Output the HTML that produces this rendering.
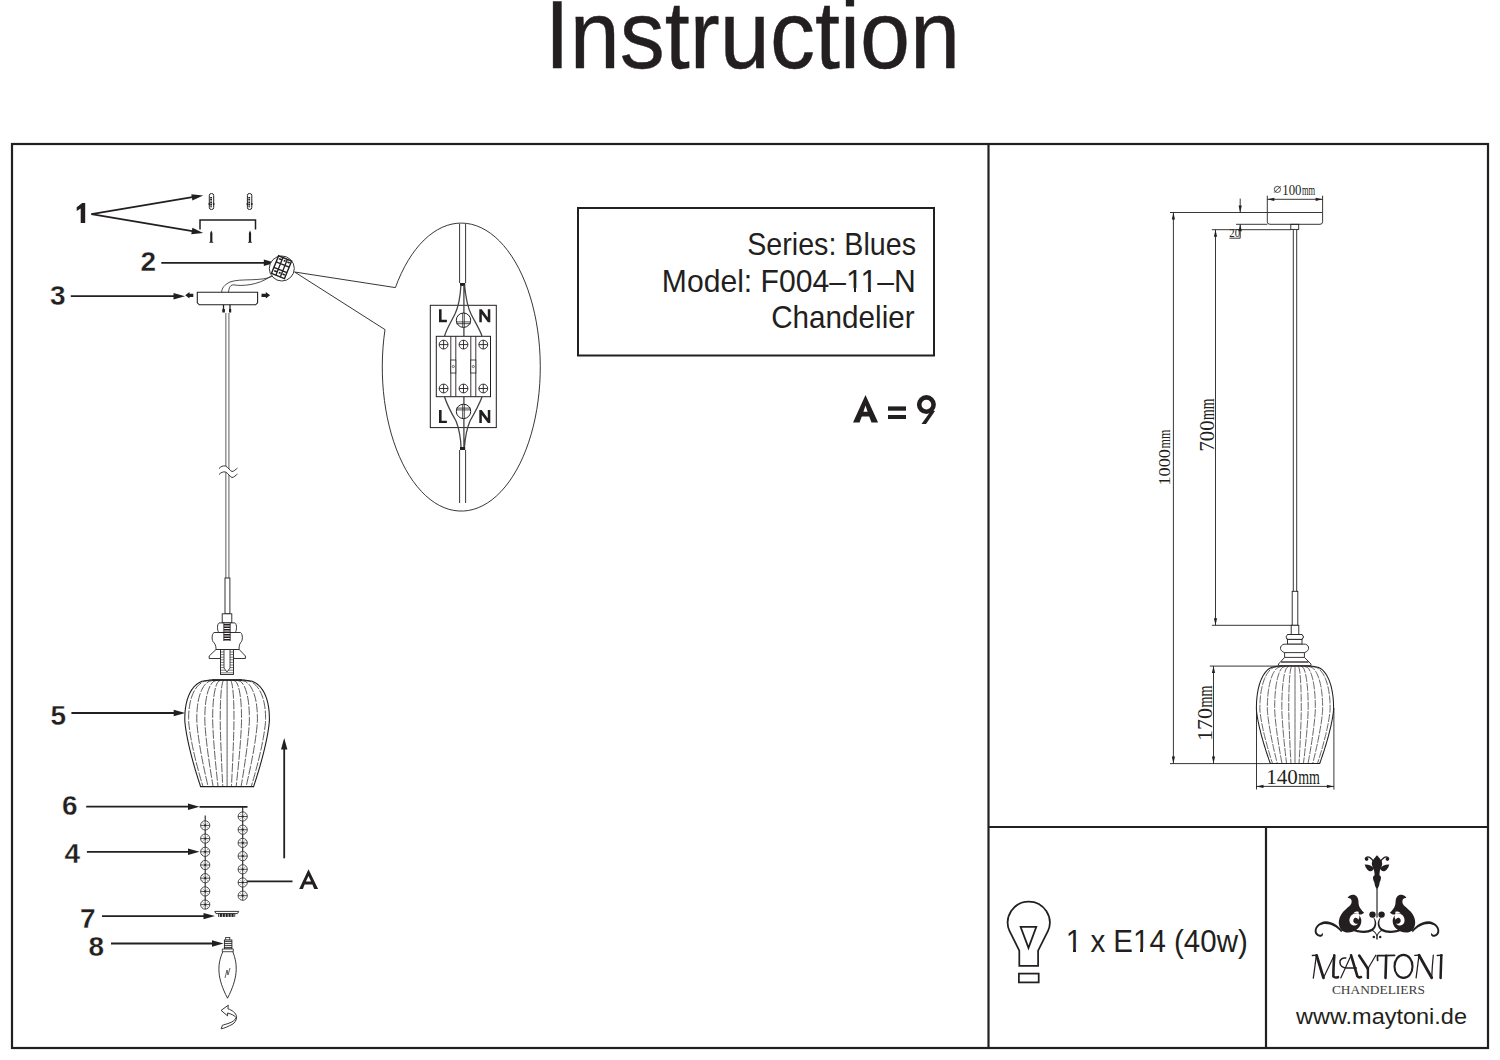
<!DOCTYPE html>
<html><head><meta charset="utf-8"><title>Instruction</title>
<style>html,body{margin:0;padding:0;background:#fff;width:1500px;height:1060px;overflow:hidden}svg{display:block}</style>
</head><body>
<svg width="1500" height="1060" viewBox="0 0 1500 1060">
<rect width="1500" height="1060" fill="#fff"/>
<text x="544.7" y="67.5" transform="translate(0 67.5) scale(1 1.025) translate(0 -67.5)" font-family="Liberation Sans, sans-serif" font-size="94" fill="#231f20" stroke="#231f20" stroke-width="0.4" textLength="415.4" lengthAdjust="spacingAndGlyphs">Instruction</text>
<g stroke="#231f20" stroke-width="2.2" fill="none">
<rect x="12" y="144" width="1476" height="904"/>
<line x1="988.5" y1="144" x2="988.5" y2="1048"/>
<line x1="988.5" y1="827" x2="1488" y2="827"/>
<line x1="1266" y1="827" x2="1266" y2="1048"/>
</g>
<rect x="578" y="208" width="356" height="147.5" fill="none" stroke="#231f20" stroke-width="2"/>
<g font-family="Liberation Sans, sans-serif" font-size="30.5" fill="#231f20" text-anchor="end">
<text x="916" y="255.1" textLength="168.8" lengthAdjust="spacingAndGlyphs">Series: Blues</text>
<text x="915.8" y="291.5" textLength="254" lengthAdjust="spacingAndGlyphs">Model: F004–11–N</text>
<text x="914.6" y="328.3" textLength="143.4" lengthAdjust="spacingAndGlyphs">Chandelier</text>
</g>
<path d="M853 422.5 L865.5 395 L878.1 422.5 L871.5 422.5 L869.2 416.5 L861.8 416.5 L859.5 422.5Z M863.4 411.8 L867.6 411.8 L865.5 405.5Z" fill="#231f20" fill-rule="evenodd"/>
<rect x="888" y="406.4" width="18" height="4.3" fill="#231f20"/><rect x="888" y="415" width="18" height="4" fill="#231f20"/>
<circle cx="926.4" cy="404.6" r="7.2" fill="none" stroke="#231f20" stroke-width="4.6"/>
<path d="M931.5 410 L921.5 424 L926 424 L935 411 Z" fill="#231f20"/>
<g font-family="Liberation Sans, sans-serif" font-weight="bold" font-size="28" fill="#231f20" stroke="#fff" stroke-width="0.3">
<text x="140.5" y="270.7">2</text>
<text x="50" y="305.4">3</text>
<text x="50.5" y="724.7">5</text>
<text x="62" y="815.4">6</text>
<text x="64.5" y="863.3">4</text>
<text x="80" y="927.6">7</text>
<text x="88.5" y="955.7">8</text>
</g><g fill="#231f20">
<path d="M80.7 223.1 V208.6 L76.7 211 L76.7 207.2 L82.2 203 L85.2 203 V223.1 Z"/>
<path d="M299.2 889 L308.5 869.2 L318.1 889 L314.2 889 L312.4 884.5 L304.6 884.5 L302.9 889 Z M305.9 881.5 L311.1 881.5 L308.5 876 Z" fill-rule="evenodd"/>
</g>
<line x1="91.4" y1="214.2" x2="195.3" y2="196.7" stroke="#231f20" stroke-width="1.8"/>
<path d="M203.2 195.4 L192.4 200.5 L191.3 194.2Z" fill="#231f20"/>
<line x1="91.4" y1="214.2" x2="195.3" y2="231.6" stroke="#231f20" stroke-width="1.8"/>
<path d="M203.2 232.9 L191.3 234.2 L192.4 227.8Z" fill="#231f20"/>
<line x1="161.3" y1="262.8" x2="267.2" y2="262.8" stroke="#231f20" stroke-width="1.8"/>
<path d="M275.3 262.8 L263.8 266.0 L263.8 259.6Z" fill="#231f20"/>
<line x1="70.8" y1="296.2" x2="176.9" y2="296.2" stroke="#231f20" stroke-width="1.8"/>
<path d="M185.0 296.2 L173.5 299.4 L173.5 293.0Z" fill="#231f20"/>
<line x1="71.4" y1="713" x2="177.1" y2="713.0" stroke="#231f20" stroke-width="1.8"/>
<path d="M185.2 713.0 L173.7 716.2 L173.7 709.8Z" fill="#231f20"/>
<line x1="86.2" y1="806.7" x2="191.4" y2="806.7" stroke="#231f20" stroke-width="1.8"/>
<path d="M199.5 806.7 L188.0 809.9 L188.0 803.5Z" fill="#231f20"/>
<line x1="86.9" y1="851.8" x2="191.4" y2="851.8" stroke="#231f20" stroke-width="1.8"/>
<path d="M199.5 851.8 L188.0 855.0 L188.0 848.6Z" fill="#231f20"/>
<line x1="102" y1="916.1" x2="206.9" y2="916.1" stroke="#231f20" stroke-width="1.8"/>
<path d="M215.0 916.1 L203.5 919.3 L203.5 912.9Z" fill="#231f20"/>
<line x1="111" y1="943.5" x2="215.4" y2="943.5" stroke="#231f20" stroke-width="1.8"/>
<path d="M223.5 943.5 L212.0 946.7 L212.0 940.3Z" fill="#231f20"/>
<line x1="284.2" y1="858.3" x2="284.2" y2="745.9" stroke="#231f20" stroke-width="1.8"/>
<path d="M284.2 737.9 L287.4 749.4 L281.0 749.4Z" fill="#231f20"/>
<line x1="242.7" y1="881.4" x2="292.5" y2="881.4" stroke="#231f20" stroke-width="1.6"/>
<rect x="209.3" y="193.5" width="4.4" height="16" rx="2" fill="#fff" stroke="#231f20" stroke-width="1"/>
<line x1="211.1" y1="197" x2="211.1" y2="207.5" stroke="#231f20" stroke-width="1.8" stroke-dasharray="1.2 0.5"/>
<circle cx="213.7" cy="204" r="0.9" fill="#231f20"/><circle cx="209.3" cy="204" r="0.9" fill="#231f20"/>
<rect x="247.4" y="193.5" width="4.4" height="16" rx="2" fill="#fff" stroke="#231f20" stroke-width="1"/>
<line x1="249.2" y1="197" x2="249.2" y2="207.5" stroke="#231f20" stroke-width="1.8" stroke-dasharray="1.2 0.5"/>
<circle cx="251.79999999999998" cy="204" r="0.9" fill="#231f20"/><circle cx="247.4" cy="204" r="0.9" fill="#231f20"/>
<path d="M200 229.5 L200 220 L255.5 220 L255.5 229.5" fill="none" stroke="#231f20" stroke-width="1.5"/>
<path d="M211.3 230.4 L212.4 233 L212.4 241.5 L213.60000000000002 242.7 L209.0 242.7 L210.20000000000002 241.5 L210.20000000000002 233Z" fill="#231f20"/>
<path d="M250 230.4 L251.1 233 L251.1 241.5 L252.3 242.7 L247.7 242.7 L248.9 241.5 L248.9 233Z" fill="#231f20"/>
<circle cx="281.8" cy="268.5" r="12.5" fill="#fff" stroke="#231f20" stroke-width="0.9"/>
<g transform="translate(282 267.4) rotate(22)"><rect x="-7.5" y="-9.5" width="14" height="19" fill="#fff" stroke="#231f20" stroke-width="1.4"/><path d="M-2.8 -9.5 V9.5 M2 -9.5 V9.5 M-7.5 -3 H6.5 M-7.5 3 H6.5" stroke="#231f20" stroke-width="1.3"/><path d="M-6 -7 h3 M-1 -7 h2 M3 -7 h2.5 M-6 6 h3 M-1 6 h2 M3 6 h2.5" stroke="#231f20" stroke-width="1.6"/></g>
<path d="M273 276 C262 282, 240 278, 230 282 C224 285, 222 288, 221.6 292.2" fill="none" stroke="#231f20" stroke-width="0.8"/>
<path d="M271 276 C258 286, 240 286, 235 285 C230 284, 229 288, 228.5 292.2" fill="none" stroke="#231f20" stroke-width="0.8"/>
<path d="M197.3 292.2 L257.6 292.2 L257.6 302.8 L255.6 304.8 L199.3 304.8 L197.3 302.8Z" fill="#fff" stroke="#231f20" stroke-width="1.1"/>
<path d="M185.2 295.3 L189.5 292 L189.5 293.8 L193.3 293.8 L193.3 297 L189.5 297 L189.5 298.6Z" fill="#231f20"/>
<path d="M270.1 295.3 L265.8 292 L265.8 293.8 L261.5 293.8 L261.5 297 L265.8 297 L265.8 298.6Z" fill="#231f20"/>
<path d="M223.5 304.8 V311 M230 304.8 V311" stroke="#231f20" stroke-width="1.3"/><rect x="222.3" y="309" width="2.6" height="3.5" fill="#231f20"/><rect x="229" y="309" width="2.2" height="3.5" fill="#231f20"/>
<path d="M225.8 313 V578 M228.9 313 V578" stroke="#8c8c8c" stroke-width="1.4"/>
<path d="M219 468.5 C221 466.5, 223 465.5, 225.5 466 C228 467, 230 471, 232 471.5 C234 471.5, 236 469, 237.5 468 L237.5 474 C236 475, 234 477.5, 232 477.5 C230 477, 228 473, 225.5 472 C223 471.5, 221 472.5, 219 474.5Z" fill="#fff"/>
<path d="M219 468.5 C221 466.5, 223 465.5, 225.5 466 C228 467, 230 471, 232 471.5 C234 471.5, 236 469, 237.5 468 M219 474.5 C221 472.5, 223 471.5, 225.5 472 C228 473, 230 477, 232 477.5 C234 477.5, 236 475, 237.5 474" fill="none" stroke="#231f20" stroke-width="0.9"/>
<rect x="225" y="578" width="4.9" height="35.8" fill="#fff" stroke="#231f20" stroke-width="0.9"/>
<rect x="222.2" y="613.8" width="9.6" height="9.1" fill="#fff" stroke="#231f20" stroke-width="0.9"/>
<path d="M219 622.9 L235 622.9 C237 624, 237 631, 235 632.5 L219 632.5 C217 631, 217 624, 219 622.9Z" fill="#fff" stroke="#231f20" stroke-width="0.9"/>
<path d="M214 632.5 L240.5 632.5 C243 634, 243 641, 240.5 642.7 C239 645, 239 648, 239.2 649.5 L216 649.5 C216 648, 216 645, 214 642.7 C211.5 641, 211.5 634, 214 632.5Z" fill="#fff" stroke="#231f20" stroke-width="0.9"/>
<path d="M216 649.5 L239.2 649.5 L245.4 656 L245.4 658.5 L209.2 658.5 L209.2 656Z" fill="#fff" stroke="#231f20" stroke-width="0.9"/>
<rect x="223.8" y="624.0" width="6.4" height="1.5" fill="#231f20"/>
<rect x="223.8" y="626.5" width="6.4" height="1.5" fill="#231f20"/>
<rect x="223.8" y="629.0" width="6.4" height="1.5" fill="#231f20"/>
<rect x="223.8" y="631.5" width="6.4" height="1.5" fill="#231f20"/>
<rect x="223.8" y="634.0" width="6.4" height="1.5" fill="#231f20"/>
<rect x="223.8" y="636.5" width="6.4" height="1.5" fill="#231f20"/>
<rect x="223.8" y="639.0" width="6.4" height="1.5" fill="#231f20"/>
<path d="M223.8 623 V641 M230.2 623 V641" stroke="#231f20" stroke-width="0.8"/>
<rect x="220.5" y="649.5" width="13" height="25" fill="#fff" stroke="#231f20" stroke-width="0.9"/>
<line x1="220.5" y1="652.0" x2="233.5" y2="652.0" stroke="#231f20" stroke-width="0.6"/>
<line x1="220.5" y1="654.6" x2="233.5" y2="654.6" stroke="#231f20" stroke-width="0.6"/>
<line x1="220.5" y1="657.2" x2="233.5" y2="657.2" stroke="#231f20" stroke-width="0.6"/>
<line x1="220.5" y1="659.8" x2="233.5" y2="659.8" stroke="#231f20" stroke-width="0.6"/>
<line x1="220.5" y1="662.4" x2="233.5" y2="662.4" stroke="#231f20" stroke-width="0.6"/>
<line x1="220.5" y1="665.0" x2="233.5" y2="665.0" stroke="#231f20" stroke-width="0.6"/>
<line x1="220.5" y1="667.6" x2="233.5" y2="667.6" stroke="#231f20" stroke-width="0.6"/>
<line x1="220.5" y1="670.2" x2="233.5" y2="670.2" stroke="#231f20" stroke-width="0.6"/>
<line x1="220.5" y1="672.8" x2="233.5" y2="672.8" stroke="#231f20" stroke-width="0.6"/>
<path d="M224 650 V668 L227 672 L230 668 V650" fill="#fff" stroke="#231f20" stroke-width="0.8"/>
<line x1="212" y1="680" x2="242" y2="680" stroke="#231f20" stroke-width="1.6"/>
<path d="M210.00 680.00 L201.83 681.33 L199.06 682.66 L197.08 684.00 L195.50 685.33 L194.19 686.66 L193.06 688.00 L192.07 689.33 L191.20 690.66 L190.42 691.99 L189.73 693.33 L189.10 694.66 L188.54 695.99 L188.04 697.32 L187.58 698.65 L187.17 699.99 L186.80 701.32 L186.48 702.65 L186.18 703.99 L185.93 705.32 L185.70 706.65 L185.50 707.98 L185.33 709.32 L185.19 710.65 L185.07 711.98 L184.98 713.31 L184.91 714.64 L184.86 715.98 L184.82 717.31 L184.80 718.64 L184.80 719.98 L184.86 721.31 L184.97 722.64 L185.11 723.97 L185.26 725.31 L185.43 726.64 L185.61 727.97 L185.80 729.30 L186.01 730.63 L186.23 731.97 L186.46 733.30 L186.69 734.63 L186.94 735.97 L187.19 737.30 L187.46 738.63 L187.72 739.96 L188.00 741.30 L188.29 742.63 L188.58 743.96 L188.87 745.29 L189.18 746.62 L189.49 747.96 L189.80 749.29 L190.12 750.62 L190.45 751.96 L190.78 753.29 L191.12 754.62 L191.47 755.95 L191.81 757.28 L192.17 758.62 L192.53 759.95 L192.89 761.28 L193.26 762.62 L193.63 763.95 L194.01 765.28 L194.39 766.61 L194.77 767.95 L195.16 769.28 L195.56 770.61 L195.96 771.94 L196.36 773.27 L196.77 774.61 L197.18 775.94 L197.59 777.27 L198.01 778.61 L198.43 779.94 L198.86 781.27 L199.29 782.60 L199.72 783.94 L200.16 785.27 L200.60 786.60 L253.60 786.60 L254.04 785.27 L254.48 783.94 L254.91 782.60 L255.34 781.27 L255.77 779.94 L256.19 778.61 L256.61 777.27 L257.02 775.94 L257.43 774.61 L257.84 773.27 L258.24 771.94 L258.64 770.61 L259.04 769.28 L259.43 767.95 L259.81 766.61 L260.19 765.28 L260.57 763.95 L260.94 762.62 L261.31 761.28 L261.67 759.95 L262.03 758.62 L262.39 757.28 L262.73 755.95 L263.08 754.62 L263.42 753.29 L263.75 751.96 L264.08 750.62 L264.40 749.29 L264.71 747.96 L265.02 746.62 L265.33 745.29 L265.62 743.96 L265.91 742.63 L266.20 741.30 L266.48 739.96 L266.74 738.63 L267.01 737.30 L267.26 735.97 L267.51 734.63 L267.74 733.30 L267.97 731.97 L268.19 730.63 L268.40 729.30 L268.59 727.97 L268.77 726.64 L268.94 725.31 L269.09 723.97 L269.23 722.64 L269.34 721.31 L269.40 719.98 L269.40 718.64 L269.38 717.31 L269.34 715.98 L269.29 714.64 L269.22 713.31 L269.13 711.98 L269.01 710.65 L268.87 709.32 L268.70 707.98 L268.50 706.65 L268.27 705.32 L268.02 703.99 L267.72 702.65 L267.40 701.32 L267.03 699.99 L266.62 698.65 L266.16 697.32 L265.66 695.99 L265.10 694.66 L264.47 693.33 L263.78 691.99 L263.00 690.66 L262.13 689.33 L261.14 688.00 L260.01 686.66 L258.70 685.33 L257.12 684.00 L255.14 682.66 L252.37 681.33 L244.20 680.00Z" fill="none" stroke="#231f20" stroke-width="1.1"/>
<path d="M211.54 680.00 L204.10 681.33 L201.59 682.66 L199.78 684.00 L198.35 685.33 L197.15 686.66 L196.12 688.00 L195.22 689.33 L194.43 690.66 L193.72 691.99 L193.09 693.33 L192.52 694.66 L192.01 695.99 L191.55 697.32 L191.14 698.65 L190.77 699.99 L190.43 701.32 L190.13 702.65 L189.87 703.99 L189.63 705.32 L189.42 706.65 L189.25 707.98 L189.09 709.32 L188.96 710.65 L188.86 711.98 L188.77 713.31 L188.71 714.64 L188.66 715.98 L188.63 717.31 L188.61 718.64 L188.61 719.98 L188.67 721.31 L188.76 722.64 L188.88 723.97 L189.02 725.31 L189.18 726.64 L189.34 727.97 L189.52 729.30 L189.71 730.63 L189.91 731.97 L190.11 733.30 L190.33 734.63 L190.55 735.97 L190.78 737.30 L191.02 738.63 L191.27 739.96 L191.52 741.30 L191.78 742.63 L192.04 743.96 L192.31 745.29 L192.59 746.62 L192.87 747.96 L193.16 749.29 L193.45 750.62 L193.75 751.96 L194.05 753.29 L194.36 754.62 L194.67 755.95 L194.99 757.28 L195.31 758.62 L195.64 759.95 L195.97 761.28 L196.30 762.62 L196.64 763.95 L196.98 765.28 L197.33 766.61 L197.68 767.95 L198.04 769.28 L198.40 770.61 L198.76 771.94 L199.13 773.27 L199.50 774.61 L199.87 775.94 L200.25 777.27 L200.63 778.61 L201.01 779.94 L201.40 781.27 L201.79 782.60 L202.19 783.94 L202.58 785.27 L202.98 786.60" fill="none" stroke="#231f20" stroke-width="0.75" stroke-dasharray="9 1.5"/>
<path d="M214.84 680.00 L208.99 681.33 L207.01 682.66 L205.58 684.00 L204.46 685.33 L203.51 686.66 L202.70 688.00 L201.99 689.33 L201.37 690.66 L200.81 691.99 L200.32 693.33 L199.87 694.66 L199.47 695.99 L199.10 697.32 L198.78 698.65 L198.48 699.99 L198.22 701.32 L197.98 702.65 L197.77 703.99 L197.59 705.32 L197.43 706.65 L197.29 707.98 L197.17 709.32 L197.06 710.65 L196.98 711.98 L196.91 713.31 L196.86 714.64 L196.82 715.98 L196.80 717.31 L196.79 718.64 L196.78 719.98 L196.83 721.31 L196.91 722.64 L197.00 723.97 L197.11 725.31 L197.23 726.64 L197.36 727.97 L197.50 729.30 L197.65 730.63 L197.81 731.97 L197.97 733.30 L198.14 734.63 L198.32 735.97 L198.50 737.30 L198.69 738.63 L198.88 739.96 L199.08 741.30 L199.28 742.63 L199.49 743.96 L199.70 745.29 L199.92 746.62 L200.14 747.96 L200.37 749.29 L200.60 750.62 L200.83 751.96 L201.07 753.29 L201.31 754.62 L201.56 755.95 L201.81 757.28 L202.06 758.62 L202.32 759.95 L202.58 761.28 L202.84 762.62 L203.11 763.95 L203.38 765.28 L203.65 766.61 L203.93 767.95 L204.21 769.28 L204.49 770.61 L204.78 771.94 L205.07 773.27 L205.36 774.61 L205.65 775.94 L205.95 777.27 L206.25 778.61 L206.55 779.94 L206.86 781.27 L207.17 782.60 L207.48 783.94 L207.79 785.27 L208.11 786.60" fill="none" stroke="#231f20" stroke-width="0.75" stroke-dasharray="9 1.5"/>
<path d="M218.09 680.00 L213.79 681.33 L212.33 682.66 L211.29 684.00 L210.45 685.33 L209.76 686.66 L209.17 688.00 L208.65 689.33 L208.19 690.66 L207.78 691.99 L207.41 693.33 L207.08 694.66 L206.79 695.99 L206.52 697.32 L206.28 698.65 L206.06 699.99 L205.87 701.32 L205.70 702.65 L205.54 703.99 L205.41 705.32 L205.29 706.65 L205.19 707.98 L205.10 709.32 L205.02 710.65 L204.96 711.98 L204.91 713.31 L204.87 714.64 L204.84 715.98 L204.83 717.31 L204.82 718.64 L204.82 719.98 L204.85 721.31 L204.91 722.64 L204.98 723.97 L205.06 725.31 L205.15 726.64 L205.24 727.97 L205.34 729.30 L205.45 730.63 L205.57 731.97 L205.69 733.30 L205.81 734.63 L205.94 735.97 L206.08 737.30 L206.21 738.63 L206.36 739.96 L206.50 741.30 L206.65 742.63 L206.80 743.96 L206.96 745.29 L207.12 746.62 L207.28 747.96 L207.45 749.29 L207.62 750.62 L207.79 751.96 L207.97 753.29 L208.15 754.62 L208.33 755.95 L208.51 757.28 L208.70 758.62 L208.89 759.95 L209.08 761.28 L209.27 762.62 L209.47 763.95 L209.67 765.28 L209.87 766.61 L210.07 767.95 L210.28 769.28 L210.48 770.61 L210.69 771.94 L210.91 773.27 L211.12 774.61 L211.34 775.94 L211.55 777.27 L211.77 778.61 L212.00 779.94 L212.22 781.27 L212.45 782.60 L212.68 783.94 L212.91 785.27 L213.14 786.60" fill="none" stroke="#231f20" stroke-width="0.75" stroke-dasharray="9 1.5"/>
<path d="M221.26 680.00 L218.47 681.33 L217.53 682.66 L216.85 684.00 L216.31 685.33 L215.86 686.66 L215.48 688.00 L215.14 689.33 L214.84 690.66 L214.58 691.99 L214.34 693.33 L214.13 694.66 L213.94 695.99 L213.76 697.32 L213.61 698.65 L213.47 699.99 L213.34 701.32 L213.23 702.65 L213.13 703.99 L213.04 705.32 L212.97 706.65 L212.90 707.98 L212.84 709.32 L212.79 710.65 L212.75 711.98 L212.72 713.31 L212.70 714.64 L212.68 715.98 L212.67 717.31 L212.66 718.64 L212.66 719.98 L212.68 721.31 L212.72 722.64 L212.76 723.97 L212.82 725.31 L212.87 726.64 L212.94 727.97 L213.00 729.30 L213.07 730.63 L213.15 731.97 L213.22 733.30 L213.31 734.63 L213.39 735.97 L213.48 737.30 L213.57 738.63 L213.66 739.96 L213.75 741.30 L213.85 742.63 L213.95 743.96 L214.05 745.29 L214.15 746.62 L214.26 747.96 L214.37 749.29 L214.48 750.62 L214.59 751.96 L214.70 753.29 L214.82 754.62 L214.93 755.95 L215.05 757.28 L215.17 758.62 L215.30 759.95 L215.42 761.28 L215.55 762.62 L215.67 763.95 L215.80 765.28 L215.93 766.61 L216.06 767.95 L216.20 769.28 L216.33 770.61 L216.47 771.94 L216.61 773.27 L216.74 774.61 L216.88 775.94 L217.03 777.27 L217.17 778.61 L217.31 779.94 L217.46 781.27 L217.61 782.60 L217.75 783.94 L217.90 785.27 L218.05 786.60" fill="none" stroke="#231f20" stroke-width="0.75" stroke-dasharray="9 1.5"/>
<path d="M224.32 680.00 L222.99 681.33 L222.54 682.66 L222.22 684.00 L221.96 685.33 L221.75 686.66 L221.56 688.00 L221.40 689.33 L221.26 690.66 L221.14 691.99 L221.02 693.33 L220.92 694.66 L220.83 695.99 L220.75 697.32 L220.67 698.65 L220.61 699.99 L220.55 701.32 L220.49 702.65 L220.45 703.99 L220.40 705.32 L220.37 706.65 L220.34 707.98 L220.31 709.32 L220.29 710.65 L220.27 711.98 L220.25 713.31 L220.24 714.64 L220.23 715.98 L220.23 717.31 L220.22 718.64 L220.22 719.98 L220.23 721.31 L220.25 722.64 L220.27 723.97 L220.30 725.31 L220.32 726.64 L220.35 727.97 L220.38 729.30 L220.42 730.63 L220.45 731.97 L220.49 733.30 L220.53 734.63 L220.57 735.97 L220.61 737.30 L220.65 738.63 L220.70 739.96 L220.74 741.30 L220.79 742.63 L220.84 743.96 L220.88 745.29 L220.93 746.62 L220.98 747.96 L221.04 749.29 L221.09 750.62 L221.14 751.96 L221.19 753.29 L221.25 754.62 L221.31 755.95 L221.36 757.28 L221.42 758.62 L221.48 759.95 L221.54 761.28 L221.60 762.62 L221.66 763.95 L221.72 765.28 L221.78 766.61 L221.84 767.95 L221.91 769.28 L221.97 770.61 L222.04 771.94 L222.10 773.27 L222.17 774.61 L222.23 775.94 L222.30 777.27 L222.37 778.61 L222.44 779.94 L222.51 781.27 L222.58 782.60 L222.65 783.94 L222.72 785.27 L222.79 786.60" fill="none" stroke="#231f20" stroke-width="0.75" stroke-dasharray="9 1.5"/>
<path d="M227.10 680.00 L227.10 681.33 L227.10 682.66 L227.10 684.00 L227.10 685.33 L227.10 686.66 L227.10 688.00 L227.10 689.33 L227.10 690.66 L227.10 691.99 L227.10 693.33 L227.10 694.66 L227.10 695.99 L227.10 697.32 L227.10 698.65 L227.10 699.99 L227.10 701.32 L227.10 702.65 L227.10 703.99 L227.10 705.32 L227.10 706.65 L227.10 707.98 L227.10 709.32 L227.10 710.65 L227.10 711.98 L227.10 713.31 L227.10 714.64 L227.10 715.98 L227.10 717.31 L227.10 718.64 L227.10 719.98 L227.10 721.31 L227.10 722.64 L227.10 723.97 L227.10 725.31 L227.10 726.64 L227.10 727.97 L227.10 729.30 L227.10 730.63 L227.10 731.97 L227.10 733.30 L227.10 734.63 L227.10 735.97 L227.10 737.30 L227.10 738.63 L227.10 739.96 L227.10 741.30 L227.10 742.63 L227.10 743.96 L227.10 745.29 L227.10 746.62 L227.10 747.96 L227.10 749.29 L227.10 750.62 L227.10 751.96 L227.10 753.29 L227.10 754.62 L227.10 755.95 L227.10 757.28 L227.10 758.62 L227.10 759.95 L227.10 761.28 L227.10 762.62 L227.10 763.95 L227.10 765.28 L227.10 766.61 L227.10 767.95 L227.10 769.28 L227.10 770.61 L227.10 771.94 L227.10 773.27 L227.10 774.61 L227.10 775.94 L227.10 777.27 L227.10 778.61 L227.10 779.94 L227.10 781.27 L227.10 782.60 L227.10 783.94 L227.10 785.27 L227.10 786.60" fill="none" stroke="#231f20" stroke-width="0.75"/>
<path d="M229.88 680.00 L231.21 681.33 L231.66 682.66 L231.98 684.00 L232.24 685.33 L232.45 686.66 L232.64 688.00 L232.80 689.33 L232.94 690.66 L233.06 691.99 L233.18 693.33 L233.28 694.66 L233.37 695.99 L233.45 697.32 L233.53 698.65 L233.59 699.99 L233.65 701.32 L233.71 702.65 L233.75 703.99 L233.80 705.32 L233.83 706.65 L233.86 707.98 L233.89 709.32 L233.91 710.65 L233.93 711.98 L233.95 713.31 L233.96 714.64 L233.97 715.98 L233.97 717.31 L233.98 718.64 L233.98 719.98 L233.97 721.31 L233.95 722.64 L233.93 723.97 L233.90 725.31 L233.88 726.64 L233.85 727.97 L233.82 729.30 L233.78 730.63 L233.75 731.97 L233.71 733.30 L233.67 734.63 L233.63 735.97 L233.59 737.30 L233.55 738.63 L233.50 739.96 L233.46 741.30 L233.41 742.63 L233.36 743.96 L233.32 745.29 L233.27 746.62 L233.22 747.96 L233.16 749.29 L233.11 750.62 L233.06 751.96 L233.01 753.29 L232.95 754.62 L232.89 755.95 L232.84 757.28 L232.78 758.62 L232.72 759.95 L232.66 761.28 L232.60 762.62 L232.54 763.95 L232.48 765.28 L232.42 766.61 L232.36 767.95 L232.29 769.28 L232.23 770.61 L232.16 771.94 L232.10 773.27 L232.03 774.61 L231.97 775.94 L231.90 777.27 L231.83 778.61 L231.76 779.94 L231.69 781.27 L231.62 782.60 L231.55 783.94 L231.48 785.27 L231.41 786.60" fill="none" stroke="#231f20" stroke-width="0.75" stroke-dasharray="9 1.5"/>
<path d="M232.94 680.00 L235.73 681.33 L236.67 682.66 L237.35 684.00 L237.89 685.33 L238.34 686.66 L238.72 688.00 L239.06 689.33 L239.36 690.66 L239.62 691.99 L239.86 693.33 L240.07 694.66 L240.26 695.99 L240.44 697.32 L240.59 698.65 L240.73 699.99 L240.86 701.32 L240.97 702.65 L241.07 703.99 L241.16 705.32 L241.23 706.65 L241.30 707.98 L241.36 709.32 L241.41 710.65 L241.45 711.98 L241.48 713.31 L241.50 714.64 L241.52 715.98 L241.53 717.31 L241.54 718.64 L241.54 719.98 L241.52 721.31 L241.48 722.64 L241.44 723.97 L241.38 725.31 L241.33 726.64 L241.26 727.97 L241.20 729.30 L241.13 730.63 L241.05 731.97 L240.98 733.30 L240.89 734.63 L240.81 735.97 L240.72 737.30 L240.63 738.63 L240.54 739.96 L240.45 741.30 L240.35 742.63 L240.25 743.96 L240.15 745.29 L240.05 746.62 L239.94 747.96 L239.83 749.29 L239.72 750.62 L239.61 751.96 L239.50 753.29 L239.38 754.62 L239.27 755.95 L239.15 757.28 L239.03 758.62 L238.90 759.95 L238.78 761.28 L238.65 762.62 L238.53 763.95 L238.40 765.28 L238.27 766.61 L238.14 767.95 L238.00 769.28 L237.87 770.61 L237.73 771.94 L237.59 773.27 L237.46 774.61 L237.32 775.94 L237.17 777.27 L237.03 778.61 L236.89 779.94 L236.74 781.27 L236.59 782.60 L236.45 783.94 L236.30 785.27 L236.15 786.60" fill="none" stroke="#231f20" stroke-width="0.75" stroke-dasharray="9 1.5"/>
<path d="M236.11 680.00 L240.41 681.33 L241.87 682.66 L242.91 684.00 L243.75 685.33 L244.44 686.66 L245.03 688.00 L245.55 689.33 L246.01 690.66 L246.42 691.99 L246.79 693.33 L247.12 694.66 L247.41 695.99 L247.68 697.32 L247.92 698.65 L248.14 699.99 L248.33 701.32 L248.50 702.65 L248.66 703.99 L248.79 705.32 L248.91 706.65 L249.01 707.98 L249.10 709.32 L249.18 710.65 L249.24 711.98 L249.29 713.31 L249.33 714.64 L249.36 715.98 L249.37 717.31 L249.38 718.64 L249.38 719.98 L249.35 721.31 L249.29 722.64 L249.22 723.97 L249.14 725.31 L249.05 726.64 L248.96 727.97 L248.86 729.30 L248.75 730.63 L248.63 731.97 L248.51 733.30 L248.39 734.63 L248.26 735.97 L248.12 737.30 L247.99 738.63 L247.84 739.96 L247.70 741.30 L247.55 742.63 L247.40 743.96 L247.24 745.29 L247.08 746.62 L246.92 747.96 L246.75 749.29 L246.58 750.62 L246.41 751.96 L246.23 753.29 L246.05 754.62 L245.87 755.95 L245.69 757.28 L245.50 758.62 L245.31 759.95 L245.12 761.28 L244.93 762.62 L244.73 763.95 L244.53 765.28 L244.33 766.61 L244.13 767.95 L243.92 769.28 L243.72 770.61 L243.51 771.94 L243.29 773.27 L243.08 774.61 L242.86 775.94 L242.65 777.27 L242.43 778.61 L242.20 779.94 L241.98 781.27 L241.75 782.60 L241.52 783.94 L241.29 785.27 L241.06 786.60" fill="none" stroke="#231f20" stroke-width="0.75" stroke-dasharray="9 1.5"/>
<path d="M239.36 680.00 L245.21 681.33 L247.19 682.66 L248.62 684.00 L249.74 685.33 L250.69 686.66 L251.50 688.00 L252.21 689.33 L252.83 690.66 L253.39 691.99 L253.88 693.33 L254.33 694.66 L254.73 695.99 L255.10 697.32 L255.42 698.65 L255.72 699.99 L255.98 701.32 L256.22 702.65 L256.43 703.99 L256.61 705.32 L256.77 706.65 L256.91 707.98 L257.03 709.32 L257.14 710.65 L257.22 711.98 L257.29 713.31 L257.34 714.64 L257.38 715.98 L257.40 717.31 L257.41 718.64 L257.42 719.98 L257.37 721.31 L257.29 722.64 L257.20 723.97 L257.09 725.31 L256.97 726.64 L256.84 727.97 L256.70 729.30 L256.55 730.63 L256.39 731.97 L256.23 733.30 L256.06 734.63 L255.88 735.97 L255.70 737.30 L255.51 738.63 L255.32 739.96 L255.12 741.30 L254.92 742.63 L254.71 743.96 L254.50 745.29 L254.28 746.62 L254.06 747.96 L253.83 749.29 L253.60 750.62 L253.37 751.96 L253.13 753.29 L252.89 754.62 L252.64 755.95 L252.39 757.28 L252.14 758.62 L251.88 759.95 L251.62 761.28 L251.36 762.62 L251.09 763.95 L250.82 765.28 L250.55 766.61 L250.27 767.95 L249.99 769.28 L249.71 770.61 L249.42 771.94 L249.13 773.27 L248.84 774.61 L248.55 775.94 L248.25 777.27 L247.95 778.61 L247.65 779.94 L247.34 781.27 L247.03 782.60 L246.72 783.94 L246.41 785.27 L246.09 786.60" fill="none" stroke="#231f20" stroke-width="0.75" stroke-dasharray="9 1.5"/>
<path d="M242.66 680.00 L250.10 681.33 L252.61 682.66 L254.42 684.00 L255.85 685.33 L257.05 686.66 L258.08 688.00 L258.98 689.33 L259.77 690.66 L260.48 691.99 L261.11 693.33 L261.68 694.66 L262.19 695.99 L262.65 697.32 L263.06 698.65 L263.43 699.99 L263.77 701.32 L264.07 702.65 L264.33 703.99 L264.57 705.32 L264.78 706.65 L264.95 707.98 L265.11 709.32 L265.24 710.65 L265.34 711.98 L265.43 713.31 L265.49 714.64 L265.54 715.98 L265.57 717.31 L265.59 718.64 L265.59 719.98 L265.53 721.31 L265.44 722.64 L265.32 723.97 L265.18 725.31 L265.02 726.64 L264.86 727.97 L264.68 729.30 L264.49 730.63 L264.29 731.97 L264.09 733.30 L263.87 734.63 L263.65 735.97 L263.42 737.30 L263.18 738.63 L262.93 739.96 L262.68 741.30 L262.42 742.63 L262.16 743.96 L261.89 745.29 L261.61 746.62 L261.33 747.96 L261.04 749.29 L260.75 750.62 L260.45 751.96 L260.15 753.29 L259.84 754.62 L259.53 755.95 L259.21 757.28 L258.89 758.62 L258.56 759.95 L258.23 761.28 L257.90 762.62 L257.56 763.95 L257.22 765.28 L256.87 766.61 L256.52 767.95 L256.16 769.28 L255.80 770.61 L255.44 771.94 L255.07 773.27 L254.70 774.61 L254.33 775.94 L253.95 777.27 L253.57 778.61 L253.19 779.94 L252.80 781.27 L252.41 782.60 L252.01 783.94 L251.62 785.27 L251.22 786.60" fill="none" stroke="#231f20" stroke-width="0.75" stroke-dasharray="9 1.5"/>
<line x1="199.5" y1="806.9" x2="247.5" y2="806.9" stroke="#231f20" stroke-width="1.6"/>
<line x1="205.2" y1="815.5" x2="205.2" y2="905" stroke="#231f20" stroke-width="1.1"/>
<line x1="242.7" y1="806.9" x2="242.7" y2="895" stroke="#231f20" stroke-width="1.1"/>
<circle cx="205.2" cy="825.4" r="4.6" fill="#fff" stroke="#231f20" stroke-width="0.8"/>
<path d="M200.6 825.4 H209.79999999999998 M205.2 820.8 V830.0" stroke="#231f20" stroke-width="0.8"/>
<path d="M202.35 822.55 L204.05 824.25 M208.05 822.55 L206.35 824.25 M202.35 828.25 L204.05 826.55 M208.05 828.25 L206.35 826.55" stroke="#777" stroke-width="0.6"/>
<circle cx="205.2" cy="825.4" r="1.1" fill="#231f20"/>
<circle cx="205.2" cy="838.6" r="4.6" fill="#fff" stroke="#231f20" stroke-width="0.8"/>
<path d="M200.6 838.6 H209.79999999999998 M205.2 834.0 V843.2" stroke="#231f20" stroke-width="0.8"/>
<path d="M202.35 835.75 L204.05 837.45 M208.05 835.75 L206.35 837.45 M202.35 841.45 L204.05 839.75 M208.05 841.45 L206.35 839.75" stroke="#777" stroke-width="0.6"/>
<circle cx="205.2" cy="838.6" r="1.1" fill="#231f20"/>
<circle cx="205.2" cy="851.8" r="4.6" fill="#fff" stroke="#231f20" stroke-width="0.8"/>
<path d="M200.6 851.8 H209.79999999999998 M205.2 847.1999999999999 V856.4" stroke="#231f20" stroke-width="0.8"/>
<path d="M202.35 848.95 L204.05 850.65 M208.05 848.95 L206.35 850.65 M202.35 854.65 L204.05 852.95 M208.05 854.65 L206.35 852.95" stroke="#777" stroke-width="0.6"/>
<circle cx="205.2" cy="851.8" r="1.1" fill="#231f20"/>
<circle cx="205.2" cy="865.0" r="4.6" fill="#fff" stroke="#231f20" stroke-width="0.8"/>
<path d="M200.6 865.0 H209.79999999999998 M205.2 860.4 V869.6" stroke="#231f20" stroke-width="0.8"/>
<path d="M202.35 862.15 L204.05 863.85 M208.05 862.15 L206.35 863.85 M202.35 867.85 L204.05 866.15 M208.05 867.85 L206.35 866.15" stroke="#777" stroke-width="0.6"/>
<circle cx="205.2" cy="865.0" r="1.1" fill="#231f20"/>
<circle cx="205.2" cy="878.1999999999999" r="4.6" fill="#fff" stroke="#231f20" stroke-width="0.8"/>
<path d="M200.6 878.1999999999999 H209.79999999999998 M205.2 873.5999999999999 V882.8" stroke="#231f20" stroke-width="0.8"/>
<path d="M202.35 875.35 L204.05 877.05 M208.05 875.35 L206.35 877.05 M202.35 881.05 L204.05 879.35 M208.05 881.05 L206.35 879.35" stroke="#777" stroke-width="0.6"/>
<circle cx="205.2" cy="878.1999999999999" r="1.1" fill="#231f20"/>
<circle cx="205.2" cy="891.4" r="4.6" fill="#fff" stroke="#231f20" stroke-width="0.8"/>
<path d="M200.6 891.4 H209.79999999999998 M205.2 886.8 V896.0" stroke="#231f20" stroke-width="0.8"/>
<path d="M202.35 888.55 L204.05 890.25 M208.05 888.55 L206.35 890.25 M202.35 894.25 L204.05 892.55 M208.05 894.25 L206.35 892.55" stroke="#777" stroke-width="0.6"/>
<circle cx="205.2" cy="891.4" r="1.1" fill="#231f20"/>
<circle cx="205.2" cy="904.5999999999999" r="4.6" fill="#fff" stroke="#231f20" stroke-width="0.8"/>
<path d="M200.6 904.5999999999999 H209.79999999999998 M205.2 899.9999999999999 V909.1999999999999" stroke="#231f20" stroke-width="0.8"/>
<path d="M202.35 901.75 L204.05 903.45 M208.05 901.75 L206.35 903.45 M202.35 907.45 L204.05 905.75 M208.05 907.45 L206.35 905.75" stroke="#777" stroke-width="0.6"/>
<circle cx="205.2" cy="904.5999999999999" r="1.1" fill="#231f20"/>
<circle cx="242.7" cy="816.5" r="4.6" fill="#fff" stroke="#231f20" stroke-width="0.8"/>
<path d="M238.1 816.5 H247.29999999999998 M242.7 811.9 V821.1" stroke="#231f20" stroke-width="0.8"/>
<path d="M239.85 813.65 L241.55 815.35 M245.55 813.65 L243.85 815.35 M239.85 819.35 L241.55 817.65 M245.55 819.35 L243.85 817.65" stroke="#777" stroke-width="0.6"/>
<circle cx="242.7" cy="816.5" r="1.1" fill="#231f20"/>
<circle cx="242.7" cy="829.7" r="4.6" fill="#fff" stroke="#231f20" stroke-width="0.8"/>
<path d="M238.1 829.7 H247.29999999999998 M242.7 825.1 V834.3000000000001" stroke="#231f20" stroke-width="0.8"/>
<path d="M239.85 826.85 L241.55 828.55 M245.55 826.85 L243.85 828.55 M239.85 832.55 L241.55 830.85 M245.55 832.55 L243.85 830.85" stroke="#777" stroke-width="0.6"/>
<circle cx="242.7" cy="829.7" r="1.1" fill="#231f20"/>
<circle cx="242.7" cy="842.9" r="4.6" fill="#fff" stroke="#231f20" stroke-width="0.8"/>
<path d="M238.1 842.9 H247.29999999999998 M242.7 838.3 V847.5" stroke="#231f20" stroke-width="0.8"/>
<path d="M239.85 840.05 L241.55 841.75 M245.55 840.05 L243.85 841.75 M239.85 845.75 L241.55 844.05 M245.55 845.75 L243.85 844.05" stroke="#777" stroke-width="0.6"/>
<circle cx="242.7" cy="842.9" r="1.1" fill="#231f20"/>
<circle cx="242.7" cy="856.1" r="4.6" fill="#fff" stroke="#231f20" stroke-width="0.8"/>
<path d="M238.1 856.1 H247.29999999999998 M242.7 851.5 V860.7" stroke="#231f20" stroke-width="0.8"/>
<path d="M239.85 853.25 L241.55 854.95 M245.55 853.25 L243.85 854.95 M239.85 858.95 L241.55 857.25 M245.55 858.95 L243.85 857.25" stroke="#777" stroke-width="0.6"/>
<circle cx="242.7" cy="856.1" r="1.1" fill="#231f20"/>
<circle cx="242.7" cy="869.3" r="4.6" fill="#fff" stroke="#231f20" stroke-width="0.8"/>
<path d="M238.1 869.3 H247.29999999999998 M242.7 864.6999999999999 V873.9" stroke="#231f20" stroke-width="0.8"/>
<path d="M239.85 866.45 L241.55 868.15 M245.55 866.45 L243.85 868.15 M239.85 872.15 L241.55 870.45 M245.55 872.15 L243.85 870.45" stroke="#777" stroke-width="0.6"/>
<circle cx="242.7" cy="869.3" r="1.1" fill="#231f20"/>
<circle cx="242.7" cy="882.5" r="4.6" fill="#fff" stroke="#231f20" stroke-width="0.8"/>
<path d="M238.1 882.5 H247.29999999999998 M242.7 877.9 V887.1" stroke="#231f20" stroke-width="0.8"/>
<path d="M239.85 879.65 L241.55 881.35 M245.55 879.65 L243.85 881.35 M239.85 885.35 L241.55 883.65 M245.55 885.35 L243.85 883.65" stroke="#777" stroke-width="0.6"/>
<circle cx="242.7" cy="882.5" r="1.1" fill="#231f20"/>
<circle cx="242.7" cy="895.7" r="4.6" fill="#fff" stroke="#231f20" stroke-width="0.8"/>
<path d="M238.1 895.7 H247.29999999999998 M242.7 891.1 V900.3000000000001" stroke="#231f20" stroke-width="0.8"/>
<path d="M239.85 892.85 L241.55 894.55 M245.55 892.85 L243.85 894.55 M239.85 898.55 L241.55 896.85 M245.55 898.55 L243.85 896.85" stroke="#777" stroke-width="0.6"/>
<circle cx="242.7" cy="895.7" r="1.1" fill="#231f20"/>
<path d="M214.8 911.4 L238.7 911.4 L237.5 913.6 L216 913.6Z" fill="#fff" stroke="#231f20" stroke-width="0.9"/>
<rect x="218.2" y="913.6" width="17" height="3.3" fill="#231f20"/>
<line x1="219.5" y1="914" x2="219.5" y2="917" stroke="#fff" stroke-width="0.7"/>
<line x1="222.4" y1="914" x2="222.4" y2="917" stroke="#fff" stroke-width="0.7"/>
<line x1="225.3" y1="914" x2="225.3" y2="917" stroke="#fff" stroke-width="0.7"/>
<line x1="228.2" y1="914" x2="228.2" y2="917" stroke="#fff" stroke-width="0.7"/>
<line x1="231.1" y1="914" x2="231.1" y2="917" stroke="#fff" stroke-width="0.7"/>
<line x1="234.0" y1="914" x2="234.0" y2="917" stroke="#fff" stroke-width="0.7"/>
<rect x="225.7" y="937.4" width="4.1" height="2.8" fill="#fff" stroke="#231f20" stroke-width="0.8"/>
<rect x="224.4" y="940" width="7.5" height="9" fill="#fff" stroke="#231f20" stroke-width="0.9"/>
<line x1="224.4" y1="941.6" x2="231.9" y2="941.6" stroke="#231f20" stroke-width="0.9"/>
<line x1="224.4" y1="943.6" x2="231.9" y2="943.6" stroke="#231f20" stroke-width="0.9"/>
<line x1="224.4" y1="945.6" x2="231.9" y2="945.6" stroke="#231f20" stroke-width="0.9"/>
<line x1="224.4" y1="947.6" x2="231.9" y2="947.6" stroke="#231f20" stroke-width="0.9"/>
<path d="M222.3 949 L233.3 949 L233.3 951.7 L222.3 951.7Z" fill="#fff" stroke="#231f20" stroke-width="0.8"/>
<path d="M222.8 951.7 C217 965, 217 978, 227.5 998.2 C238 978, 238 965, 232.8 951.7" fill="none" stroke="#231f20" stroke-width="0.9"/>
<path d="M225 978 L227 970 L228 975 L230 968" fill="none" stroke="#231f20" stroke-width="0.7"/>
<path d="M228.3 1005.2 L221.1 1010.4 L227.6 1015.9 L227.6 1013 C231 1014, 235 1015.5, 236.2 1017.7 C235 1020, 233 1021.7, 229 1023.2 C226 1024.3, 223.5 1024.8, 222.5 1025.2 L221.1 1028.8 C224 1028.5, 229 1026, 232 1024.5 C235 1023, 236.6 1020, 236.6 1016.6 C236 1013, 232 1010, 227.9 1008.8 Z" fill="#fff" stroke="#231f20" stroke-width="0.9" stroke-linejoin="round"/>
<path d="M395.4 287.6 A79 144 0 1 1 385 329.6" fill="none" stroke="#231f20" stroke-width="0.9"/>
<path d="M294.6 272 L395.4 287.6 M294.6 272 L385 329.6" fill="none" stroke="#231f20" stroke-width="0.9"/>
<rect x="430.3" y="305.3" width="66" height="122.3" fill="#fff" stroke="#231f20" stroke-width="1"/>
<path d="M459.6 224 V283 M465.6 224 V283 M459.6 450 V503 M465.6 450 V503" stroke="#231f20" stroke-width="0.9"/>
<rect x="460" y="283" width="5.2" height="3" fill="#231f20"/><rect x="460" y="447" width="5.2" height="3" fill="#231f20"/>
<path d="M461 285 C460 300, 458 308, 455 314 C451 322, 446 330, 444.6 336 M464.5 285 C466 300, 468 308, 471 314 C475 322, 480 330, 482 336 M463.9 285 V336" fill="none" stroke="#444" stroke-width="1.3"/>
<path d="M444.6 397 C447 405, 452 414, 456 421 C459 428, 461 440, 461 447 M482 397 C479 405, 474 414, 470 421 C467 428, 465 440, 464.5 447 M463.9 397 V447" fill="none" stroke="#444" stroke-width="1.3"/>
<rect x="436.3" y="336.3" width="54.2" height="60.4" fill="#fff" stroke="#231f20" stroke-width="1"/>
<path d="M450.8 336.3 V396.7 M455.8 336.3 V396.7 M470.8 336.3 V396.7 M475.8 336.3 V396.7" stroke="#231f20" stroke-width="0.9"/>
<rect x="450.8" y="360" width="5" height="13" fill="#fff" stroke="#231f20" stroke-width="0.8"/><rect x="470.8" y="360" width="5" height="13" fill="#fff" stroke="#231f20" stroke-width="0.8"/>
<circle cx="453.3" cy="366.5" r="1.1" fill="none" stroke="#231f20" stroke-width="0.6"/><circle cx="473.3" cy="366.5" r="1.1" fill="none" stroke="#231f20" stroke-width="0.6"/>
<circle cx="443.6" cy="344.6" r="4.4" fill="#fff" stroke="#231f20" stroke-width="0.9"/><path d="M439.20000000000005 344.6 H448.0 M443.6 340.20000000000005 V349.0" stroke="#231f20" stroke-width="0.9"/>
<circle cx="443.6" cy="388.5" r="4.4" fill="#fff" stroke="#231f20" stroke-width="0.9"/><path d="M439.20000000000005 388.5 H448.0 M443.6 384.1 V392.9" stroke="#231f20" stroke-width="0.9"/>
<circle cx="463.5" cy="344.6" r="4.4" fill="#fff" stroke="#231f20" stroke-width="0.9"/><path d="M459.1 344.6 H467.9 M463.5 340.20000000000005 V349.0" stroke="#231f20" stroke-width="0.9"/>
<circle cx="463.5" cy="388.5" r="4.4" fill="#fff" stroke="#231f20" stroke-width="0.9"/><path d="M459.1 388.5 H467.9 M463.5 384.1 V392.9" stroke="#231f20" stroke-width="0.9"/>
<circle cx="483.3" cy="344.6" r="4.4" fill="#fff" stroke="#231f20" stroke-width="0.9"/><path d="M478.90000000000003 344.6 H487.7 M483.3 340.20000000000005 V349.0" stroke="#231f20" stroke-width="0.9"/>
<circle cx="483.3" cy="388.5" r="4.4" fill="#fff" stroke="#231f20" stroke-width="0.9"/><path d="M478.90000000000003 388.5 H487.7 M483.3 384.1 V392.9" stroke="#231f20" stroke-width="0.9"/>
<circle cx="463.5" cy="320.2" r="7.2" fill="#fff" stroke="#231f20" stroke-width="1"/><path d="M456.3 321.90000000000003 H470.7 M456.3 323.7 H470.7 M462.7 313.0 V327.4 M464.3 313.0 V327.4" stroke="#231f20" stroke-width="0.8"/>
<circle cx="463.5" cy="411.4" r="7.2" fill="#fff" stroke="#231f20" stroke-width="1"/><path d="M456.3 408.1 H470.7 M456.3 409.9 H470.7 M462.7 404.2 V418.59999999999997 M464.3 404.2 V418.59999999999997" stroke="#231f20" stroke-width="0.8"/>
<path d="M439 309.2 h2.6 v10.6 h5.3 v2.4 h-7.9Z" fill="#231f20"/>
<path d="M479.3 322.2 V309.2 h2.4 l6.1 8.2 V309.2 h2.5 v13 h-2.4 l-6.1 -8.2 V322.2Z" fill="#231f20"/>
<path d="M439 410.1 h2.6 v10.6 h5.3 v2.4 h-7.9Z" fill="#231f20"/>
<path d="M479.3 423.1 V410.1 h2.4 l6.1 8.2 V410.1 h2.5 v13 h-2.4 l-6.1 -8.2 V423.1Z" fill="#231f20"/>
<g stroke="#231f20" stroke-width="0.9" fill="none">
<line x1="1170" y1="212.5" x2="1267.3" y2="212.5"/>
<path d="M1267.3 212.5 H1322.6 V221.8 Q1322.6 224.3 1320 224.3 H1270 Q1267.3 224.3 1267.3 221.8Z"/>
<line x1="1236" y1="224.3" x2="1267.3" y2="224.3"/>
<line x1="1211.9" y1="229.7" x2="1291" y2="229.7"/>
<rect x="1290.8" y="224.3" width="7.9" height="5.1"/>
<path d="M1293.3 229.4 V591.4 M1296.7 229.4 V591.4"/>
<path d="M1267.3 195.7 V212.5 M1322.6 195.7 V212.5 M1267.3 199.3 H1322.6"/>
<path d="M1240.2 198.6 V212.5 M1240.2 224.3 V238.2 H1229.5"/>
<line x1="1173.4" y1="212.5" x2="1173.4" y2="763.6"/>
<line x1="1215.5" y1="229.7" x2="1215.5" y2="625.2"/>
<line x1="1211.9" y1="625.3" x2="1292.2" y2="625.3"/>
<rect x="1292.2" y="591.3" width="5.6" height="34"/>
<line x1="1170" y1="763.6" x2="1270" y2="763.6"/>
<line x1="1209.8" y1="666.1" x2="1278" y2="666.1"/>
<line x1="1213.5" y1="666.1" x2="1213.5" y2="763.6"/>
<path d="M1256.5 708 V789.5 M1333.9 708 V789.5 M1256.5 786.4 H1333.9"/>
</g>
<g stroke="#231f20" stroke-width="0.9" fill="#fff">
<rect x="1291.2" y="625.3" width="7.6" height="9.2"/>
<path d="M1287.5 634.5 H1302 Q1305 637 1302 639.4 H1287.5 Q1284.5 637 1287.5 639.4Z"/>
<path d="M1287.5 634.5 H1302 Q1305 637 1302 639.4 H1287.5 Q1284.5 637 1287.5 634.5Z"/>
<rect x="1287.5" y="639.4" width="14.5" height="4.8"/>
<path d="M1284 644.2 H1305.5 C1309.8 645.5, 1309.8 651, 1304.4 652.6 L1304.4 657.4 L1311 664 V665.6 H1278.5 V664 L1284.6 657.4 V652.6 C1279.2 651, 1279.2 645.5, 1284 644.2Z"/>
<path d="M1284.6 652.6 H1304.4 M1284.6 657.4 H1304.4"/>
<path d="M1281 662 H1308.5" stroke-width="1.3"/>
</g>
<path d="M1173.4 212.5 L1175.0 219.5 L1171.8 219.5Z" fill="#231f20"/>
<path d="M1173.4 763.6 L1171.8 756.6 L1175.0 756.6Z" fill="#231f20"/>
<path d="M1215.5 229.7 L1217.1 236.7 L1213.9 236.7Z" fill="#231f20"/>
<path d="M1215.5 625.2 L1213.9 618.2 L1217.1 618.2Z" fill="#231f20"/>
<path d="M1213.5 666.1 L1215.1 673.1 L1211.9 673.1Z" fill="#231f20"/>
<path d="M1213.5 763.6 L1211.9 756.6 L1215.1 756.6Z" fill="#231f20"/>
<path d="M1267.3 199.3 L1274.3 197.7 L1274.3 200.9Z" fill="#231f20"/>
<path d="M1322.6 199.3 L1315.6 200.9 L1315.6 197.7Z" fill="#231f20"/>
<path d="M1240.2 212.5 L1238.6 205.5 L1241.8 205.5Z" fill="#231f20"/>
<path d="M1240.2 224.3 L1241.8 231.3 L1238.6 231.3Z" fill="#231f20"/>
<path d="M1256.5 786.4 L1263.5 784.8 L1263.5 788.0Z" fill="#231f20"/>
<path d="M1333.9 786.4 L1326.9 788.0 L1326.9 784.8Z" fill="#231f20"/>
<path d="M1277.00 666.30 L1271.20 667.51 L1269.11 668.73 L1267.59 669.94 L1266.37 671.16 L1265.33 672.38 L1264.43 673.59 L1263.63 674.80 L1262.91 676.02 L1262.27 677.24 L1261.68 678.45 L1261.14 679.66 L1260.66 680.88 L1260.21 682.09 L1259.79 683.31 L1259.41 684.52 L1259.07 685.74 L1258.75 686.95 L1258.45 688.17 L1258.18 689.38 L1257.94 690.60 L1257.71 691.81 L1257.51 693.03 L1257.33 694.25 L1257.17 695.46 L1257.02 696.67 L1256.89 697.89 L1256.78 699.11 L1256.68 700.32 L1256.60 701.53 L1256.54 702.75 L1256.49 703.96 L1256.45 705.18 L1256.42 706.39 L1256.41 707.61 L1256.40 708.82 L1256.45 710.04 L1256.56 711.25 L1256.69 712.47 L1256.85 713.68 L1257.02 714.90 L1257.20 716.12 L1257.40 717.33 L1257.61 718.54 L1257.83 719.76 L1258.07 720.98 L1258.31 722.19 L1258.56 723.40 L1258.82 724.62 L1259.08 725.84 L1259.36 727.05 L1259.64 728.26 L1259.93 729.48 L1260.23 730.69 L1260.53 731.91 L1260.84 733.12 L1261.16 734.34 L1261.48 735.55 L1261.81 736.77 L1262.14 737.99 L1262.48 739.20 L1262.83 740.41 L1263.18 741.63 L1263.53 742.85 L1263.90 744.06 L1264.26 745.27 L1264.63 746.49 L1265.01 747.71 L1265.39 748.92 L1265.77 750.13 L1266.16 751.35 L1266.56 752.57 L1266.96 753.78 L1267.36 755.00 L1267.77 756.21 L1268.18 757.42 L1268.60 758.64 L1269.02 759.86 L1269.44 761.07 L1269.87 762.28 L1270.30 763.50 L1319.70 763.50 L1320.13 762.28 L1320.56 761.07 L1320.98 759.86 L1321.40 758.64 L1321.82 757.42 L1322.23 756.21 L1322.64 755.00 L1323.04 753.78 L1323.44 752.57 L1323.84 751.35 L1324.23 750.13 L1324.61 748.92 L1324.99 747.71 L1325.37 746.49 L1325.74 745.27 L1326.10 744.06 L1326.47 742.85 L1326.82 741.63 L1327.17 740.41 L1327.52 739.20 L1327.86 737.99 L1328.19 736.77 L1328.52 735.55 L1328.84 734.34 L1329.16 733.12 L1329.47 731.91 L1329.77 730.69 L1330.07 729.48 L1330.36 728.26 L1330.64 727.05 L1330.92 725.84 L1331.18 724.62 L1331.44 723.40 L1331.69 722.19 L1331.93 720.98 L1332.17 719.76 L1332.39 718.54 L1332.60 717.33 L1332.80 716.12 L1332.98 714.90 L1333.15 713.68 L1333.31 712.47 L1333.44 711.25 L1333.55 710.04 L1333.60 708.82 L1333.59 707.61 L1333.58 706.39 L1333.55 705.18 L1333.51 703.96 L1333.46 702.75 L1333.40 701.53 L1333.32 700.32 L1333.22 699.11 L1333.11 697.89 L1332.98 696.67 L1332.83 695.46 L1332.67 694.25 L1332.49 693.03 L1332.29 691.81 L1332.06 690.60 L1331.82 689.38 L1331.55 688.17 L1331.25 686.95 L1330.93 685.74 L1330.59 684.52 L1330.21 683.31 L1329.79 682.09 L1329.34 680.88 L1328.86 679.66 L1328.32 678.45 L1327.73 677.24 L1327.09 676.02 L1326.37 674.80 L1325.57 673.59 L1324.67 672.38 L1323.63 671.16 L1322.41 669.94 L1320.89 668.73 L1318.80 667.51 L1313.00 666.30Z" fill="none" stroke="#231f20" stroke-width="1.05"/>
<path d="M1278.62 666.30 L1273.34 667.51 L1271.44 668.73 L1270.06 669.94 L1268.94 671.16 L1268.00 672.38 L1267.18 673.59 L1266.45 674.80 L1265.80 676.02 L1265.21 677.24 L1264.68 678.45 L1264.19 679.66 L1263.75 680.88 L1263.34 682.09 L1262.96 683.31 L1262.62 684.52 L1262.30 685.74 L1262.01 686.95 L1261.74 688.17 L1261.50 689.38 L1261.27 690.60 L1261.07 691.81 L1260.89 693.03 L1260.72 694.25 L1260.57 695.46 L1260.44 696.67 L1260.32 697.89 L1260.22 699.11 L1260.13 700.32 L1260.06 701.53 L1260.00 702.75 L1259.95 703.96 L1259.92 705.18 L1259.89 706.39 L1259.88 707.61 L1259.87 708.82 L1259.92 710.04 L1260.02 711.25 L1260.14 712.47 L1260.28 713.68 L1260.44 714.90 L1260.61 716.12 L1260.79 717.33 L1260.98 718.54 L1261.18 719.76 L1261.39 720.98 L1261.61 722.19 L1261.84 723.40 L1262.07 724.62 L1262.32 725.84 L1262.57 727.05 L1262.82 728.26 L1263.09 729.48 L1263.36 730.69 L1263.63 731.91 L1263.92 733.12 L1264.20 734.34 L1264.50 735.55 L1264.80 736.77 L1265.10 737.99 L1265.41 739.20 L1265.72 740.41 L1266.04 741.63 L1266.37 742.85 L1266.69 744.06 L1267.03 745.27 L1267.37 746.49 L1267.71 747.71 L1268.05 748.92 L1268.40 750.13 L1268.76 751.35 L1269.12 752.57 L1269.48 753.78 L1269.85 755.00 L1270.22 756.21 L1270.59 757.42 L1270.97 758.64 L1271.35 759.86 L1271.74 761.07 L1272.13 762.28 L1272.52 763.50" fill="none" stroke="#231f20" stroke-width="0.7" stroke-dasharray="8 1.3"/>
<path d="M1282.10 666.30 L1277.94 667.51 L1276.45 668.73 L1275.36 669.94 L1274.48 671.16 L1273.73 672.38 L1273.09 673.59 L1272.51 674.80 L1272.00 676.02 L1271.54 677.24 L1271.12 678.45 L1270.74 679.66 L1270.38 680.88 L1270.06 682.09 L1269.77 683.31 L1269.50 684.52 L1269.25 685.74 L1269.02 686.95 L1268.81 688.17 L1268.61 689.38 L1268.44 690.60 L1268.28 691.81 L1268.13 693.03 L1268.00 694.25 L1267.88 695.46 L1267.78 696.67 L1267.69 697.89 L1267.61 699.11 L1267.54 700.32 L1267.48 701.53 L1267.43 702.75 L1267.40 703.96 L1267.37 705.18 L1267.35 706.39 L1267.34 707.61 L1267.33 708.82 L1267.37 710.04 L1267.45 711.25 L1267.55 712.47 L1267.66 713.68 L1267.78 714.90 L1267.91 716.12 L1268.05 717.33 L1268.20 718.54 L1268.36 719.76 L1268.53 720.98 L1268.70 722.19 L1268.88 723.40 L1269.07 724.62 L1269.26 725.84 L1269.46 727.05 L1269.66 728.26 L1269.87 729.48 L1270.08 730.69 L1270.30 731.91 L1270.52 733.12 L1270.74 734.34 L1270.98 735.55 L1271.21 736.77 L1271.45 737.99 L1271.69 739.20 L1271.94 740.41 L1272.19 741.63 L1272.45 742.85 L1272.71 744.06 L1272.97 745.27 L1273.24 746.49 L1273.50 747.71 L1273.78 748.92 L1274.05 750.13 L1274.33 751.35 L1274.62 752.57 L1274.90 753.78 L1275.19 755.00 L1275.48 756.21 L1275.78 757.42 L1276.08 758.64 L1276.38 759.86 L1276.68 761.07 L1276.99 762.28 L1277.30 763.50" fill="none" stroke="#231f20" stroke-width="0.7" stroke-dasharray="8 1.3"/>
<path d="M1285.52 666.30 L1282.46 667.51 L1281.36 668.73 L1280.56 669.94 L1279.92 671.16 L1279.37 672.38 L1278.89 673.59 L1278.47 674.80 L1278.10 676.02 L1277.76 677.24 L1277.45 678.45 L1277.16 679.66 L1276.91 680.88 L1276.67 682.09 L1276.45 683.31 L1276.25 684.52 L1276.07 685.74 L1275.90 686.95 L1275.75 688.17 L1275.60 689.38 L1275.47 690.60 L1275.36 691.81 L1275.25 693.03 L1275.15 694.25 L1275.07 695.46 L1274.99 696.67 L1274.92 697.89 L1274.86 699.11 L1274.81 700.32 L1274.77 701.53 L1274.74 702.75 L1274.71 703.96 L1274.69 705.18 L1274.68 706.39 L1274.67 707.61 L1274.66 708.82 L1274.69 710.04 L1274.75 711.25 L1274.82 712.47 L1274.90 713.68 L1274.99 714.90 L1275.09 716.12 L1275.19 717.33 L1275.30 718.54 L1275.42 719.76 L1275.54 720.98 L1275.67 722.19 L1275.80 723.40 L1275.94 724.62 L1276.08 725.84 L1276.22 727.05 L1276.37 728.26 L1276.53 729.48 L1276.68 730.69 L1276.84 731.91 L1277.00 733.12 L1277.17 734.34 L1277.34 735.55 L1277.51 736.77 L1277.69 737.99 L1277.87 739.20 L1278.05 740.41 L1278.24 741.63 L1278.42 742.85 L1278.61 744.06 L1278.81 745.27 L1279.00 746.49 L1279.20 747.71 L1279.40 748.92 L1279.60 750.13 L1279.81 751.35 L1280.02 752.57 L1280.23 753.78 L1280.44 755.00 L1280.65 756.21 L1280.87 757.42 L1281.09 758.64 L1281.31 759.86 L1281.53 761.07 L1281.76 762.28 L1281.99 763.50" fill="none" stroke="#231f20" stroke-width="0.7" stroke-dasharray="8 1.3"/>
<path d="M1288.86 666.30 L1286.87 667.51 L1286.16 668.73 L1285.64 669.94 L1285.23 671.16 L1284.87 672.38 L1284.56 673.59 L1284.29 674.80 L1284.05 676.02 L1283.83 677.24 L1283.62 678.45 L1283.44 679.66 L1283.28 680.88 L1283.12 682.09 L1282.98 683.31 L1282.85 684.52 L1282.73 685.74 L1282.62 686.95 L1282.52 688.17 L1282.43 689.38 L1282.35 690.60 L1282.27 691.81 L1282.20 693.03 L1282.14 694.25 L1282.08 695.46 L1282.03 696.67 L1281.99 697.89 L1281.95 699.11 L1281.92 700.32 L1281.89 701.53 L1281.87 702.75 L1281.85 703.96 L1281.84 705.18 L1281.83 706.39 L1281.82 707.61 L1281.82 708.82 L1281.84 710.04 L1281.88 711.25 L1281.92 712.47 L1281.98 713.68 L1282.03 714.90 L1282.10 716.12 L1282.16 717.33 L1282.24 718.54 L1282.31 719.76 L1282.39 720.98 L1282.47 722.19 L1282.56 723.40 L1282.65 724.62 L1282.74 725.84 L1282.83 727.05 L1282.93 728.26 L1283.03 729.48 L1283.13 730.69 L1283.23 731.91 L1283.34 733.12 L1283.45 734.34 L1283.56 735.55 L1283.67 736.77 L1283.78 737.99 L1283.90 739.20 L1284.02 740.41 L1284.14 741.63 L1284.26 742.85 L1284.38 744.06 L1284.51 745.27 L1284.63 746.49 L1284.76 747.71 L1284.89 748.92 L1285.02 750.13 L1285.16 751.35 L1285.29 752.57 L1285.43 753.78 L1285.56 755.00 L1285.70 756.21 L1285.84 757.42 L1285.99 758.64 L1286.13 759.86 L1286.27 761.07 L1286.42 762.28 L1286.57 763.50" fill="none" stroke="#231f20" stroke-width="0.7" stroke-dasharray="8 1.3"/>
<path d="M1292.07 666.30 L1291.13 667.51 L1290.79 668.73 L1290.54 669.94 L1290.34 671.16 L1290.18 672.38 L1290.03 673.59 L1289.90 674.80 L1289.78 676.02 L1289.68 677.24 L1289.58 678.45 L1289.49 679.66 L1289.42 680.88 L1289.34 682.09 L1289.28 683.31 L1289.21 684.52 L1289.16 685.74 L1289.10 686.95 L1289.06 688.17 L1289.01 689.38 L1288.97 690.60 L1288.94 691.81 L1288.90 693.03 L1288.87 694.25 L1288.85 695.46 L1288.82 696.67 L1288.80 697.89 L1288.79 699.11 L1288.77 700.32 L1288.76 701.53 L1288.75 702.75 L1288.74 703.96 L1288.73 705.18 L1288.73 706.39 L1288.72 707.61 L1288.72 708.82 L1288.73 710.04 L1288.75 711.25 L1288.77 712.47 L1288.80 713.68 L1288.82 714.90 L1288.85 716.12 L1288.89 717.33 L1288.92 718.54 L1288.96 719.76 L1288.99 720.98 L1289.03 722.19 L1289.07 723.40 L1289.12 724.62 L1289.16 725.84 L1289.20 727.05 L1289.25 728.26 L1289.30 729.48 L1289.35 730.69 L1289.40 731.91 L1289.45 733.12 L1289.50 734.34 L1289.55 735.55 L1289.60 736.77 L1289.66 737.99 L1289.71 739.20 L1289.77 740.41 L1289.83 741.63 L1289.88 742.85 L1289.94 744.06 L1290.00 745.27 L1290.06 746.49 L1290.12 747.71 L1290.19 748.92 L1290.25 750.13 L1290.31 751.35 L1290.38 752.57 L1290.44 753.78 L1290.51 755.00 L1290.57 756.21 L1290.64 757.42 L1290.71 758.64 L1290.77 759.86 L1290.84 761.07 L1290.91 762.28 L1290.98 763.50" fill="none" stroke="#231f20" stroke-width="0.7" stroke-dasharray="8 1.3"/>
<path d="M1295.00 666.30 L1295.00 667.51 L1295.00 668.73 L1295.00 669.94 L1295.00 671.16 L1295.00 672.38 L1295.00 673.59 L1295.00 674.80 L1295.00 676.02 L1295.00 677.24 L1295.00 678.45 L1295.00 679.66 L1295.00 680.88 L1295.00 682.09 L1295.00 683.31 L1295.00 684.52 L1295.00 685.74 L1295.00 686.95 L1295.00 688.17 L1295.00 689.38 L1295.00 690.60 L1295.00 691.81 L1295.00 693.03 L1295.00 694.25 L1295.00 695.46 L1295.00 696.67 L1295.00 697.89 L1295.00 699.11 L1295.00 700.32 L1295.00 701.53 L1295.00 702.75 L1295.00 703.96 L1295.00 705.18 L1295.00 706.39 L1295.00 707.61 L1295.00 708.82 L1295.00 710.04 L1295.00 711.25 L1295.00 712.47 L1295.00 713.68 L1295.00 714.90 L1295.00 716.12 L1295.00 717.33 L1295.00 718.54 L1295.00 719.76 L1295.00 720.98 L1295.00 722.19 L1295.00 723.40 L1295.00 724.62 L1295.00 725.84 L1295.00 727.05 L1295.00 728.26 L1295.00 729.48 L1295.00 730.69 L1295.00 731.91 L1295.00 733.12 L1295.00 734.34 L1295.00 735.55 L1295.00 736.77 L1295.00 737.99 L1295.00 739.20 L1295.00 740.41 L1295.00 741.63 L1295.00 742.85 L1295.00 744.06 L1295.00 745.27 L1295.00 746.49 L1295.00 747.71 L1295.00 748.92 L1295.00 750.13 L1295.00 751.35 L1295.00 752.57 L1295.00 753.78 L1295.00 755.00 L1295.00 756.21 L1295.00 757.42 L1295.00 758.64 L1295.00 759.86 L1295.00 761.07 L1295.00 762.28 L1295.00 763.50" fill="none" stroke="#231f20" stroke-width="0.7"/>
<path d="M1297.93 666.30 L1298.87 667.51 L1299.21 668.73 L1299.46 669.94 L1299.66 671.16 L1299.82 672.38 L1299.97 673.59 L1300.10 674.80 L1300.22 676.02 L1300.32 677.24 L1300.42 678.45 L1300.51 679.66 L1300.58 680.88 L1300.66 682.09 L1300.72 683.31 L1300.79 684.52 L1300.84 685.74 L1300.90 686.95 L1300.94 688.17 L1300.99 689.38 L1301.03 690.60 L1301.06 691.81 L1301.10 693.03 L1301.13 694.25 L1301.15 695.46 L1301.18 696.67 L1301.20 697.89 L1301.21 699.11 L1301.23 700.32 L1301.24 701.53 L1301.25 702.75 L1301.26 703.96 L1301.27 705.18 L1301.27 706.39 L1301.28 707.61 L1301.28 708.82 L1301.27 710.04 L1301.25 711.25 L1301.23 712.47 L1301.20 713.68 L1301.18 714.90 L1301.15 716.12 L1301.11 717.33 L1301.08 718.54 L1301.04 719.76 L1301.01 720.98 L1300.97 722.19 L1300.93 723.40 L1300.88 724.62 L1300.84 725.84 L1300.80 727.05 L1300.75 728.26 L1300.70 729.48 L1300.65 730.69 L1300.60 731.91 L1300.55 733.12 L1300.50 734.34 L1300.45 735.55 L1300.40 736.77 L1300.34 737.99 L1300.29 739.20 L1300.23 740.41 L1300.17 741.63 L1300.12 742.85 L1300.06 744.06 L1300.00 745.27 L1299.94 746.49 L1299.88 747.71 L1299.81 748.92 L1299.75 750.13 L1299.69 751.35 L1299.62 752.57 L1299.56 753.78 L1299.49 755.00 L1299.43 756.21 L1299.36 757.42 L1299.29 758.64 L1299.23 759.86 L1299.16 761.07 L1299.09 762.28 L1299.02 763.50" fill="none" stroke="#231f20" stroke-width="0.7" stroke-dasharray="8 1.3"/>
<path d="M1301.14 666.30 L1303.13 667.51 L1303.84 668.73 L1304.36 669.94 L1304.77 671.16 L1305.13 672.38 L1305.44 673.59 L1305.71 674.80 L1305.95 676.02 L1306.17 677.24 L1306.38 678.45 L1306.56 679.66 L1306.72 680.88 L1306.88 682.09 L1307.02 683.31 L1307.15 684.52 L1307.27 685.74 L1307.38 686.95 L1307.48 688.17 L1307.57 689.38 L1307.65 690.60 L1307.73 691.81 L1307.80 693.03 L1307.86 694.25 L1307.92 695.46 L1307.97 696.67 L1308.01 697.89 L1308.05 699.11 L1308.08 700.32 L1308.11 701.53 L1308.13 702.75 L1308.15 703.96 L1308.16 705.18 L1308.17 706.39 L1308.18 707.61 L1308.18 708.82 L1308.16 710.04 L1308.12 711.25 L1308.08 712.47 L1308.02 713.68 L1307.97 714.90 L1307.90 716.12 L1307.84 717.33 L1307.76 718.54 L1307.69 719.76 L1307.61 720.98 L1307.53 722.19 L1307.44 723.40 L1307.35 724.62 L1307.26 725.84 L1307.17 727.05 L1307.07 728.26 L1306.97 729.48 L1306.87 730.69 L1306.77 731.91 L1306.66 733.12 L1306.55 734.34 L1306.44 735.55 L1306.33 736.77 L1306.22 737.99 L1306.10 739.20 L1305.98 740.41 L1305.86 741.63 L1305.74 742.85 L1305.62 744.06 L1305.49 745.27 L1305.37 746.49 L1305.24 747.71 L1305.11 748.92 L1304.98 750.13 L1304.84 751.35 L1304.71 752.57 L1304.57 753.78 L1304.44 755.00 L1304.30 756.21 L1304.16 757.42 L1304.01 758.64 L1303.87 759.86 L1303.73 761.07 L1303.58 762.28 L1303.43 763.50" fill="none" stroke="#231f20" stroke-width="0.7" stroke-dasharray="8 1.3"/>
<path d="M1304.48 666.30 L1307.54 667.51 L1308.64 668.73 L1309.44 669.94 L1310.08 671.16 L1310.63 672.38 L1311.11 673.59 L1311.53 674.80 L1311.90 676.02 L1312.24 677.24 L1312.55 678.45 L1312.84 679.66 L1313.09 680.88 L1313.33 682.09 L1313.55 683.31 L1313.75 684.52 L1313.93 685.74 L1314.10 686.95 L1314.25 688.17 L1314.40 689.38 L1314.53 690.60 L1314.64 691.81 L1314.75 693.03 L1314.85 694.25 L1314.93 695.46 L1315.01 696.67 L1315.08 697.89 L1315.14 699.11 L1315.19 700.32 L1315.23 701.53 L1315.26 702.75 L1315.29 703.96 L1315.31 705.18 L1315.32 706.39 L1315.33 707.61 L1315.34 708.82 L1315.31 710.04 L1315.25 711.25 L1315.18 712.47 L1315.10 713.68 L1315.01 714.90 L1314.91 716.12 L1314.81 717.33 L1314.70 718.54 L1314.58 719.76 L1314.46 720.98 L1314.33 722.19 L1314.20 723.40 L1314.06 724.62 L1313.92 725.84 L1313.78 727.05 L1313.63 728.26 L1313.47 729.48 L1313.32 730.69 L1313.16 731.91 L1313.00 733.12 L1312.83 734.34 L1312.66 735.55 L1312.49 736.77 L1312.31 737.99 L1312.13 739.20 L1311.95 740.41 L1311.76 741.63 L1311.58 742.85 L1311.39 744.06 L1311.19 745.27 L1311.00 746.49 L1310.80 747.71 L1310.60 748.92 L1310.40 750.13 L1310.19 751.35 L1309.98 752.57 L1309.77 753.78 L1309.56 755.00 L1309.35 756.21 L1309.13 757.42 L1308.91 758.64 L1308.69 759.86 L1308.47 761.07 L1308.24 762.28 L1308.01 763.50" fill="none" stroke="#231f20" stroke-width="0.7" stroke-dasharray="8 1.3"/>
<path d="M1307.90 666.30 L1312.06 667.51 L1313.55 668.73 L1314.64 669.94 L1315.52 671.16 L1316.27 672.38 L1316.91 673.59 L1317.49 674.80 L1318.00 676.02 L1318.46 677.24 L1318.88 678.45 L1319.26 679.66 L1319.62 680.88 L1319.94 682.09 L1320.23 683.31 L1320.50 684.52 L1320.75 685.74 L1320.98 686.95 L1321.19 688.17 L1321.39 689.38 L1321.56 690.60 L1321.72 691.81 L1321.87 693.03 L1322.00 694.25 L1322.12 695.46 L1322.22 696.67 L1322.31 697.89 L1322.39 699.11 L1322.46 700.32 L1322.52 701.53 L1322.57 702.75 L1322.60 703.96 L1322.63 705.18 L1322.65 706.39 L1322.66 707.61 L1322.67 708.82 L1322.63 710.04 L1322.55 711.25 L1322.45 712.47 L1322.34 713.68 L1322.22 714.90 L1322.09 716.12 L1321.95 717.33 L1321.80 718.54 L1321.64 719.76 L1321.47 720.98 L1321.30 722.19 L1321.12 723.40 L1320.93 724.62 L1320.74 725.84 L1320.54 727.05 L1320.34 728.26 L1320.13 729.48 L1319.92 730.69 L1319.70 731.91 L1319.48 733.12 L1319.26 734.34 L1319.02 735.55 L1318.79 736.77 L1318.55 737.99 L1318.31 739.20 L1318.06 740.41 L1317.81 741.63 L1317.55 742.85 L1317.29 744.06 L1317.03 745.27 L1316.76 746.49 L1316.50 747.71 L1316.22 748.92 L1315.95 750.13 L1315.67 751.35 L1315.38 752.57 L1315.10 753.78 L1314.81 755.00 L1314.52 756.21 L1314.22 757.42 L1313.92 758.64 L1313.62 759.86 L1313.32 761.07 L1313.01 762.28 L1312.70 763.50" fill="none" stroke="#231f20" stroke-width="0.7" stroke-dasharray="8 1.3"/>
<path d="M1311.38 666.30 L1316.66 667.51 L1318.56 668.73 L1319.94 669.94 L1321.06 671.16 L1322.00 672.38 L1322.82 673.59 L1323.55 674.80 L1324.20 676.02 L1324.79 677.24 L1325.32 678.45 L1325.81 679.66 L1326.25 680.88 L1326.66 682.09 L1327.04 683.31 L1327.38 684.52 L1327.70 685.74 L1327.99 686.95 L1328.26 688.17 L1328.50 689.38 L1328.73 690.60 L1328.93 691.81 L1329.11 693.03 L1329.28 694.25 L1329.43 695.46 L1329.56 696.67 L1329.68 697.89 L1329.78 699.11 L1329.87 700.32 L1329.94 701.53 L1330.00 702.75 L1330.05 703.96 L1330.08 705.18 L1330.11 706.39 L1330.12 707.61 L1330.13 708.82 L1330.08 710.04 L1329.98 711.25 L1329.86 712.47 L1329.72 713.68 L1329.56 714.90 L1329.39 716.12 L1329.21 717.33 L1329.02 718.54 L1328.82 719.76 L1328.61 720.98 L1328.39 722.19 L1328.16 723.40 L1327.93 724.62 L1327.68 725.84 L1327.43 727.05 L1327.18 728.26 L1326.91 729.48 L1326.64 730.69 L1326.37 731.91 L1326.08 733.12 L1325.80 734.34 L1325.50 735.55 L1325.20 736.77 L1324.90 737.99 L1324.59 739.20 L1324.28 740.41 L1323.96 741.63 L1323.63 742.85 L1323.31 744.06 L1322.97 745.27 L1322.63 746.49 L1322.29 747.71 L1321.95 748.92 L1321.60 750.13 L1321.24 751.35 L1320.88 752.57 L1320.52 753.78 L1320.15 755.00 L1319.78 756.21 L1319.41 757.42 L1319.03 758.64 L1318.65 759.86 L1318.26 761.07 L1317.87 762.28 L1317.48 763.50" fill="none" stroke="#231f20" stroke-width="0.7" stroke-dasharray="8 1.3"/>
<g font-family="Liberation Serif, serif" fill="#231f20" lengthAdjust="spacingAndGlyphs">
<circle cx="1277.4" cy="189.4" r="3.1" fill="none" stroke="#231f20" stroke-width="0.8"/><line x1="1274.2" y1="192.6" x2="1280.6" y2="186.2" stroke="#231f20" stroke-width="0.8"/>
<text x="1282.3" y="194.6" font-size="15" textLength="19.2" lengthAdjust="spacingAndGlyphs">100</text>
<text x="1302" y="194.6" font-size="14.5" textLength="13.2" lengthAdjust="spacingAndGlyphs">mm</text>
<text x="1229.3" y="236.9" font-size="12" textLength="10.8" lengthAdjust="spacingAndGlyphs">20</text>
<text transform="translate(1170.4 485.5) rotate(-90)" font-size="17.3" textLength="36.5" lengthAdjust="spacingAndGlyphs">1000</text>
<text transform="translate(1170.4 448.4) rotate(-90)" font-size="17.3" textLength="19" lengthAdjust="spacingAndGlyphs">mm</text>
<text transform="translate(1213.6 451.4) rotate(-90)" font-size="20" textLength="30.8" lengthAdjust="spacingAndGlyphs">700</text>
<text transform="translate(1213.6 419.99999999999994) rotate(-90)" font-size="20" textLength="21.3" lengthAdjust="spacingAndGlyphs">mm</text>
<text transform="translate(1211.8 741) rotate(-90)" font-size="20.5" textLength="33" lengthAdjust="spacingAndGlyphs">170</text>
<text transform="translate(1211.8 707.4) rotate(-90)" font-size="20.5" textLength="22" lengthAdjust="spacingAndGlyphs">mm</text>
<text x="1266.2" y="784.4" font-size="20" textLength="31.6" lengthAdjust="spacingAndGlyphs">140</text>
<text x="1298.2" y="784.4" font-size="20" textLength="21.7" lengthAdjust="spacingAndGlyphs">mm</text>
</g>
<path d="M1019.3 950.6 L1009.5 931 A21 21 0 1 1 1048 931 L1038.1 950.6 V965.9 H1019.3 Z" fill="none" stroke="#231f20" stroke-width="1.75" stroke-linejoin="miter"/>
<rect x="1018.9" y="973.6" width="19.8" height="8.8" fill="none" stroke="#231f20" stroke-width="1.75"/>
<path d="M1020.6 926.8 H1036.3 L1028.5 947.9Z" fill="none" stroke="#231f20" stroke-width="1.75"/>
<text x="1065.8" y="951.9" font-family="Liberation Sans, sans-serif" font-size="30.5" fill="#231f20" textLength="182" lengthAdjust="spacingAndGlyphs">1 x E14 (40w)</text>
<rect x="1067" y="948.5" width="6" height="5" fill="#fff"/>
<rect x="1076" y="948.5" width="6" height="5" fill="#fff"/>
<rect x="1134" y="948.5" width="6" height="5" fill="#fff"/>
<rect x="1143" y="948.5" width="6" height="5" fill="#fff"/>
<rect x="847" y="288.2" width="7" height="4.8" fill="#fff"/>
<rect x="856" y="288.2" width="5.600000000000023" height="4.8" fill="#fff"/>
<rect x="861.6" y="288.2" width="6.399999999999977" height="4.8" fill="#fff"/>
<rect x="871" y="288.2" width="6" height="4.8" fill="#fff"/>
<path d="M1313.3 978.2 C1314.5 970, 1315.5 962, 1316.3 955.6" fill="none" stroke="#231f20" stroke-width="1.25" stroke-linecap="round" stroke-linejoin="round"/>
<path d="M1312.3 955.5 L1317 955.2" fill="none" stroke="#231f20" stroke-width="1.3" stroke-linecap="round" stroke-linejoin="round"/>
<path d="M1316.6 955.4 L1323.5 977.8" fill="none" stroke="#231f20" stroke-width="2.8" stroke-linecap="round" stroke-linejoin="round"/>
<path d="M1323.5 977.8 L1334.3 955.3" fill="none" stroke="#231f20" stroke-width="1.2" stroke-linecap="round" stroke-linejoin="round"/>
<path d="M1334.3 955.3 C1333.8 962, 1333.3 970, 1333.4 976.5 C1334.5 977.8, 1336.5 977.6, 1338 977.2" fill="none" stroke="#231f20" stroke-width="2.6" stroke-linecap="round" stroke-linejoin="round"/>
<path d="M1345.8 958 C1342 957.5, 1339.6 960, 1339.9 962.5 C1340.2 966, 1343 968, 1347 968.1 L1356.4 968" fill="none" stroke="#231f20" stroke-width="1.5" stroke-linecap="round" stroke-linejoin="round"/>
<path d="M1351.1 955.3 L1340.8 977.9" fill="none" stroke="#231f20" stroke-width="1.2" stroke-linecap="round" stroke-linejoin="round"/>
<path d="M1351.1 955.3 L1357.4 976.3 C1358.3 977.6, 1359.8 977.5, 1361 977.1" fill="none" stroke="#231f20" stroke-width="2.6" stroke-linecap="round" stroke-linejoin="round"/>
<path d="M1359.2 955.5 L1367.9 968.7" fill="none" stroke="#231f20" stroke-width="2.6" stroke-linecap="round" stroke-linejoin="round"/>
<path d="M1375.8 955.2 L1367.9 968.7" fill="none" stroke="#231f20" stroke-width="1.2" stroke-linecap="round" stroke-linejoin="round"/>
<path d="M1367.9 968.5 L1367.9 977.9" fill="none" stroke="#231f20" stroke-width="2.4" stroke-linecap="round" stroke-linejoin="round"/>
<path d="M1377.6 960.5 L1377.4 955.7 C1383 955.5, 1389 955.4, 1394.6 955.3" fill="none" stroke="#231f20" stroke-width="1.7" stroke-linecap="round" stroke-linejoin="round"/>
<path d="M1386.2 955.7 L1385.5 977.9" fill="none" stroke="#231f20" stroke-width="2.6" stroke-linecap="round" stroke-linejoin="round"/>
<ellipse cx="1403.5" cy="966.4" rx="9.0" ry="11.5" fill="none" stroke="#231f20" stroke-width="2.1"/>
<path d="M1418.9 955.6 C1418 963, 1417 971, 1416.1 977.9" fill="none" stroke="#231f20" stroke-width="1.25" stroke-linecap="round" stroke-linejoin="round"/>
<path d="M1414.8 955.4 L1419.8 955.2" fill="none" stroke="#231f20" stroke-width="1.3" stroke-linecap="round" stroke-linejoin="round"/>
<path d="M1419 955.3 L1431.7 977.8" fill="none" stroke="#231f20" stroke-width="2.8" stroke-linecap="round" stroke-linejoin="round"/>
<path d="M1433.3 955.2 C1432.5 963, 1432 971, 1431.7 977.8" fill="none" stroke="#231f20" stroke-width="1.25" stroke-linecap="round" stroke-linejoin="round"/>
<path d="M1441.3 955.3 L1440.6 977.9" fill="none" stroke="#231f20" stroke-width="2.5" stroke-linecap="round" stroke-linejoin="round"/>
<path d="M1437.2 955.5 L1442.2 955.2" fill="none" stroke="#231f20" stroke-width="1.3" stroke-linecap="round" stroke-linejoin="round"/>
<text x="1331.9" y="993.8" font-family="Liberation Serif, serif" font-size="13" fill="#3c3a3a" textLength="93" lengthAdjust="spacingAndGlyphs">CHANDELIERS</text>
<text x="1296" y="1024" font-family="Liberation Sans, sans-serif" font-size="21.5" fill="#231f20" textLength="171" lengthAdjust="spacingAndGlyphs">www.maytoni.de</text>
<g transform="translate(1305 850) scale(0.09667)" fill="#231f20">
<path d="M745 55 C770 85, 805 115, 798 152 C792 185, 772 200, 772 232 L770 262 C792 270, 790 305, 772 335 C770 362, 760 388, 745 408 C730 388, 720 362, 718 335 C700 305, 698 270, 720 262 L718 232 C718 200, 698 185, 692 152 C685 115, 720 85, 745 55 Z"/>
<path d="M706 205 C690 232, 640 228, 618 150 C660 148, 695 165, 712 190 Z"/>
<path d="M784 205 C800 232, 850 228, 872 150 C830 148, 795 165, 778 190 Z"/>
<circle cx="640" cy="92" r="16"/><circle cx="850" cy="92" r="16"/>
<rect x="739" y="400" width="12" height="300"/>
<circle cx="698" cy="668" r="33"/><circle cx="792" cy="668" r="33"/>
<g><path d="M440 500 C455 455, 540 440, 552 520 C556 560, 548 590, 612 648 C590 668, 565 670, 548 664 C600 705, 590 775, 545 815 C500 858, 410 872, 372 822 C335 772, 345 700, 395 640 C440 590, 490 570, 482 525 C478 500, 455 492, 440 500 Z"/><path d="M700 690 C748 720, 752 800, 700 835 C640 872, 560 860, 470 830 L470 810 C560 840, 640 845, 690 815 C728 790, 730 730, 700 690 Z"/><path d="M385 835 C320 755, 230 715, 160 752 C95 785, 80 860, 130 890 C170 910, 200 880, 180 855 C175 880, 150 885, 130 865 C105 830, 130 780, 180 770 C250 755, 320 790, 375 850 Z"/><path d="M745 925 C745 880, 725 850, 690 835 L695 825 C735 845, 755 880, 752 925 Z"/><circle cx="712" cy="900" r="13"/><g fill="#fff"><path d="M550 655 C495 645, 448 690, 462 745 C472 785, 525 795, 548 760 C520 770, 492 748, 502 718 C512 692, 540 695, 552 722 C568 698, 568 668, 550 655 Z"/><path d="M555 640 C530 628, 505 640, 500 660 C515 648, 535 648, 555 660Z"/></g></g>
<g transform="translate(1490 0) scale(-1 1)"><path d="M440 500 C455 455, 540 440, 552 520 C556 560, 548 590, 612 648 C590 668, 565 670, 548 664 C600 705, 590 775, 545 815 C500 858, 410 872, 372 822 C335 772, 345 700, 395 640 C440 590, 490 570, 482 525 C478 500, 455 492, 440 500 Z"/><path d="M700 690 C748 720, 752 800, 700 835 C640 872, 560 860, 470 830 L470 810 C560 840, 640 845, 690 815 C728 790, 730 730, 700 690 Z"/><path d="M385 835 C320 755, 230 715, 160 752 C95 785, 80 860, 130 890 C170 910, 200 880, 180 855 C175 880, 150 885, 130 865 C105 830, 130 780, 180 770 C250 755, 320 790, 375 850 Z"/><path d="M745 925 C745 880, 725 850, 690 835 L695 825 C735 845, 755 880, 752 925 Z"/><circle cx="712" cy="900" r="13"/><g fill="#fff"><path d="M550 655 C495 645, 448 690, 462 745 C472 785, 525 795, 548 760 C520 770, 492 748, 502 718 C512 692, 540 695, 552 722 C568 698, 568 668, 550 655 Z"/><path d="M555 640 C530 628, 505 640, 500 660 C515 648, 535 648, 555 660Z"/></g></g>
</g>
<path d="M1366 858 C1368 854, 1372 856, 1371 859 M1388 858 C1386 854, 1382 856, 1383 859" fill="none" stroke="#231f20" stroke-width="0"/>
<g transform="translate(1305 850) scale(0.09667)" fill="none" stroke="#231f20" stroke-width="13">
<path d="M712 125 C690 80, 655 62, 632 78 C615 92, 628 110, 645 104"/><path d="M778 125 C800 80, 835 62, 858 78 C875 92, 862 110, 845 104"/>
</g>
</svg>
</body></html>
